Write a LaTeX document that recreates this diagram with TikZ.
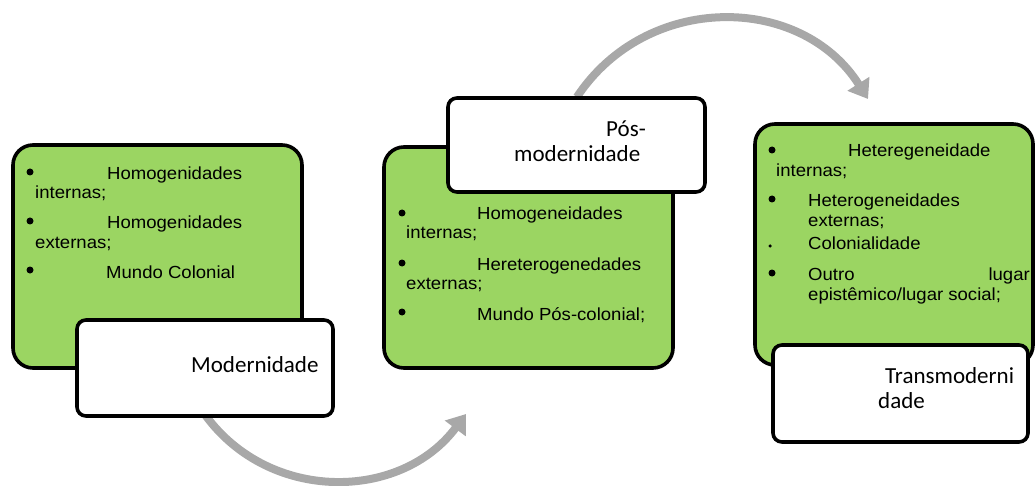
\documentclass[tikz,border=0pt]{standalone}
\usepackage{fontspec}
\usetikzlibrary{arrows.meta}
\newfontfamily\bodyf[FakeStretch=1.06]{Liberation Sans}
\newfontfamily\labf{Carlito}
\definecolor{boxgreen}{RGB}{155,213,98}
\definecolor{arrowgray}{RGB}{168,168,168}
\tikzset{
  gbox/.style={draw=black, line width=3.6pt, fill=boxgreen, rounded corners=20pt},
  wbox/.style={draw=black, line width=3.6pt, fill=white, rounded corners=9pt},
  txt/.style={anchor=base west, inner sep=0pt, font=\bodyf\fontsize{17.5}{18}\selectfont},
  txtr/.style={txt, anchor=base east},
  lab/.style={anchor=base west, inner sep=0pt, font=\labf\fontsize{23}{25}\selectfont},
  bul/.style={circle, fill=black, inner sep=0pt, minimum size=7pt},
  sbul/.style={circle, fill=black, inner sep=0pt, minimum size=3.5pt},
  bigarrow/.style={draw=arrowgray, line width=8pt, -{Triangle[length=18pt,width=25pt]}}
}
\begin{document}
\begin{tikzpicture}[x=1pt,y=-1pt]
\useasboundingbox (0,0) rectangle (1035,486);
% arrows (behind the boxes)
\coordinate (a1s) at (205.6,415.5);
\coordinate (a1e) at (466,414);
\coordinate (a2s) at (576.9,97);
\coordinate (a2e) at (868,99);
\draw[bigarrow] (a1s) .. controls (269.8,503) and (400.7,501.3) .. (a1e);
\draw[bigarrow] (a2s) .. controls (646.5,-8.1) and (801.1,-6.7) .. (a2e);

% box 1
\node[gbox, minimum width=289pt, minimum height=223pt] (g1) at (157.5,256.5) {};
\node[wbox, minimum width=256pt, minimum height=96pt] (w1) at (205,368) {};
\node[bul] (b11) at (30,172) {};
\node[txt] (t11) at (107,180) {Homogenidades};
\node[txt] (t12) at (35,198.5) {internas;};
\node[bul] (b12) at (30,221) {};
\node[txt] (t13) at (107,229) {Homogenidades};
\node[txt] (t14) at (35,248) {externas;};
\node[bul] (b13) at (30,270) {};
\node[txt] (t15) at (106,278) {Mundo Colonial};
\node[lab] (l1) at (191,372) {Modernidade};

% box 2
\node[gbox, minimum width=289pt, minimum height=221pt] (g2) at (528.5,257.5) {};
\node[wbox, minimum width=257pt, minimum height=94pt] (w2) at (576.5,145) {};
\node[lab] (l2a) at (606,137) {Pós-};
\node[lab] (l2b) at (514,162) {modernidade};
\node[bul] (b21) at (402,213) {};
\node[txt] (t21) at (477,220) {Homogeneidades};
\node[txt] (t22) at (406,239) {internas;};
\node[bul] (b22) at (402,263) {};
\node[txt] (t23) at (477,270) {Hereterogenedades};
\node[txt] (t24) at (406,289) {externas;};
\node[bul] (b23) at (402,312) {};
\node[txt] (t25) at (477,320) {Mundo Pós-colonial;};

% box 3
\node[gbox, minimum width=278pt, minimum height=241pt] (g3) at (894,244.5) {};
\node[wbox, minimum width=255pt, minimum height=97pt] (w3) at (900.5,393.5) {};
\node[bul] (b31) at (772,150) {};
\node[txt] (t31) at (848,157) {Heteregeneidade};
\node[txt] (t32) at (776,176.5) {internas;};
\node[bul] (b32) at (772,199) {};
\node[txt] (t33) at (808,207) {Heterogeneidades};
\node[txt] (t34) at (808,226) {externas;};
\node[sbul] (b33) at (770,246) {};
\node[txt] (t35) at (808,250) {Colonialidade};
\node[bul] (b34) at (772,273) {};
\node[txt] (t36) at (808,280) {Outro};
\node[txtr] (t37) at (1030,280) {lugar};
\node[txt] (t38) at (808,300) {epistêmico/lugar social;};
\node[lab] (l3a) at (885,383) {Transmoderni};
\node[lab] (l3b) at (878,408) {dade};
\end{tikzpicture}
\end{document}
